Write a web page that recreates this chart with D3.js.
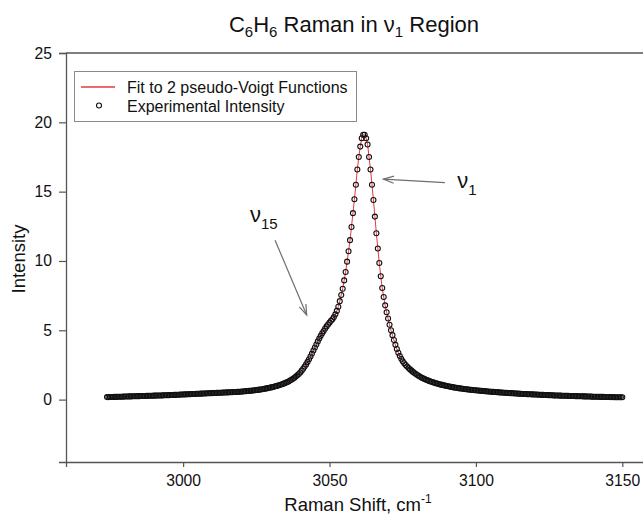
<!DOCTYPE html>
<meta charset="utf-8">
<script src="https://d3js.org/d3.v7.min.js"></script>
<style>
    body { margin: 0; background: #fff; }
    text { font-family: "Liberation Sans", Arial, sans-serif; fill: #111; }
</style>
<div id="my_dataviz"></div>

<script>
    // raman shift grid (cm-1) of the recorded spectrum
    const shiftStart = 2974;
    const shiftStep = 0.5;

    // experimental intensity, one value per grid step
    const intensity = [
        // 2974 - 3018.5
        0.18, 0.18, 0.185, 0.19, 0.19, 0.195, 0.2, 0.2, 0.205, 0.21,
        0.21, 0.215, 0.22, 0.22, 0.225, 0.23, 0.23, 0.235, 0.24, 0.24,
        0.245, 0.25, 0.25, 0.255, 0.26, 0.26, 0.265, 0.27, 0.27, 0.275,
        0.28, 0.28, 0.285, 0.29, 0.29, 0.295, 0.3, 0.3, 0.305, 0.31,
        0.31, 0.315, 0.32, 0.325, 0.33, 0.335, 0.34, 0.345, 0.35, 0.355,
        0.36, 0.365, 0.37, 0.375, 0.38, 0.385, 0.39, 0.395, 0.4, 0.405,
        0.41, 0.415, 0.42, 0.425, 0.43, 0.435, 0.44, 0.445, 0.45, 0.455,
        0.46, 0.465, 0.47, 0.475, 0.48, 0.485, 0.49, 0.495, 0.5, 0.505,
        0.51, 0.515, 0.52, 0.525, 0.53, 0.535, 0.54, 0.545, 0.55, 0.555,
        // 3019 - 3029.5
        0.56, 0.57, 0.58, 0.59, 0.6, 0.61, 0.62, 0.63, 0.64, 0.65,
        0.66, 0.67, 0.69, 0.7, 0.72, 0.73, 0.75, 0.77, 0.79, 0.81,
        0.83, 0.85,
        // 3030 - 3061.5 (v15 shoulder + left flank)
        0.88, 0.9, 0.93, 0.96, 0.99, 1.02, 1.05, 1.09, 1.13, 1.17,
        1.21, 1.26, 1.31, 1.37, 1.43, 1.5, 1.58, 1.66, 1.75, 1.85,
        1.96, 2.09, 2.23, 2.38, 2.54, 2.72, 2.91, 3.11, 3.32, 3.54,
        3.76, 3.98, 4.2, 4.4, 4.6, 4.78, 4.95, 5.12, 5.28, 5.42,
        5.55, 5.68, 5.8, 5.95, 6.15, 6.4, 6.7, 7.1, 7.55, 8.0,
        8.6, 9.2, 9.95, 10.7, 11.5, 12.45, 13.45, 14.45, 15.5, 16.6,
        17.5, 18.25, 18.85, 19.1,
        // 3062 - 3075 (right flank)
        19.1, 18.85, 18.4, 17.5, 16.6, 15.5, 14.4, 13.2, 12.0, 10.9,
        9.85, 8.9, 8.05, 7.4, 6.8, 6.3, 5.85, 5.4, 5.0, 4.65,
        4.3, 3.95, 3.65, 3.38, 3.15, 2.95, 2.76,
        // 3075.5 - 3150
        2.62, 2.5, 2.39, 2.28, 2.18, 2.09, 2.0, 1.92, 1.84, 1.77,
        1.7, 1.64, 1.58, 1.53, 1.48, 1.43, 1.39, 1.35, 1.31, 1.27,
        1.24, 1.2, 1.17, 1.14, 1.11, 1.08, 1.06, 1.03, 1.01, 0.98,
        0.96, 0.94, 0.92, 0.9, 0.88, 0.86, 0.85, 0.83, 0.81, 0.8,
        0.78, 0.77, 0.75, 0.74, 0.73, 0.71, 0.7, 0.69, 0.68, 0.67,
        0.66, 0.65, 0.64, 0.63, 0.62, 0.61, 0.6, 0.59, 0.58, 0.57,
        0.56, 0.555, 0.55, 0.54, 0.53, 0.52, 0.515, 0.51, 0.5, 0.49,
        0.485, 0.48, 0.47, 0.465, 0.46, 0.45, 0.445, 0.44, 0.43, 0.425,
        0.42, 0.41, 0.405, 0.4, 0.395, 0.39, 0.385, 0.38, 0.375, 0.37,
        0.365, 0.36, 0.355, 0.35, 0.345, 0.34, 0.335, 0.33, 0.325, 0.32,
        0.315, 0.31, 0.305, 0.3, 0.3, 0.295, 0.29, 0.285, 0.28, 0.28,
        0.275, 0.27, 0.27, 0.265, 0.26, 0.26, 0.255, 0.25, 0.25, 0.245,
        0.24, 0.24, 0.235, 0.23, 0.23, 0.225, 0.22, 0.22, 0.215, 0.21,
        0.21, 0.205, 0.205, 0.2, 0.2, 0.195, 0.195, 0.19, 0.19, 0.185,
        0.185, 0.18, 0.18, 0.18, 0.175, 0.175, 0.17, 0.17, 0.17, 0.165
    ];

    const xTicks = [3000, 3050, 3100, 3150];
    const yTicks = [0, 5, 10, 15, 20, 25];
    const legendLabels = ["Fit to 2 pseudo-Voigt Functions", "Experimental Intensity"];

    // annotation anchors in data units: label pos, arrow tail, arrow tip
    const bandNames = ["15", "1"];
    const bandLabelAt = [[3022.8, 12.8], [3093.6, 15.25]];
    const arrowFrom = [[3031.4, 11.5], [3089.4, 15.65]];
    const arrowTo = [[3042.2, 6.1], [3068.4, 15.9]];

    const data = intensity.map((v, i) => ({ shift: shiftStart + i * shiftStep, value: v }));

    //plot box
    const W = 643, H = 517;
    const box = { left: 66, right: 651.6, top: 53, bottom: 462 };

    const svg = d3.select("#my_dataviz")
        .append("svg")
        .attr("width", W)
        .attr("height", H);

    const x = d3.scaleLinear()
        .domain([2960, 3160])
        .range([box.left, box.right]);

    const y = d3.scaleLinear()
        .domain([-4.5, 25])
        .range([box.bottom, box.top]);

    const axisColor = "#555";

    // frame: top and right lines (right one falls just outside the window)
    svg.append("path")
        .attr("d", `M${box.left},${box.top}H${box.right}V${box.bottom}`)
        .attr("fill", "none")
        .attr("stroke", axisColor)
        .attr("stroke-width", 1.3);

    // X axis
    const gx = svg.append("g")
        .attr("transform", `translate(0, ${box.bottom})`)
        .call(d3.axisBottom(x).tickValues(xTicks).tickFormat(d3.format("d"))
            .tickSizeOuter(0).tickSize(5).tickPadding(8));

    // Y axis
    const gy = svg.append("g")
        .attr("transform", `translate(${box.left}, 0)`)
        .call(d3.axisLeft(y).tickValues(yTicks).tickSizeOuter(0).tickSize(7).tickPadding(7));

    [gx, gy].forEach(g => {
        g.select(".domain").attr("stroke", axisColor).attr("stroke-width", 1.3);
        g.selectAll(".tick line").attr("stroke", axisColor).attr("stroke-width", 1.2);
        g.selectAll(".tick text")
            .attr("fill", "#111")
            .style("font-family", '"Liberation Sans", Arial, sans-serif')
            .style("font-size", "15.7px");
    });

    // fit line
    svg.append("path")
        .datum(data)
        .attr("fill", "none")
        .attr("stroke", "#e2393f")
        .attr("stroke-width", 1)
        .attr("d", d3.line()
            .x(d => x(d.shift))
            .y(d => y(d.value)));

    // experimental points
    svg.append("g")
        .selectAll("circle")
        .data(data)
        .join("circle")
        .attr("cx", d => x(d.shift))
        .attr("cy", d => y(d.value))
        .attr("r", 2.5)
        .attr("fill", "none")
        .attr("stroke", "#111")
        .attr("stroke-width", 1.1);

    // title
    const title = svg.append("text")
        .attr("x", 354)
        .attr("y", 32)
        .attr("text-anchor", "middle")
        .style("font-size", "22px");
    title.append("tspan").text("C");
    title.append("tspan").attr("dy", 5).style("font-size", "15px").text("6");
    title.append("tspan").attr("dy", -5).text("H");
    title.append("tspan").attr("dy", 5).style("font-size", "15px").text("6");
    title.append("tspan").attr("dy", -5).text(" Raman in \u03bd");
    title.append("tspan").attr("dy", 5).style("font-size", "15px").text("1");
    title.append("tspan").attr("dy", -5).text(" Region");

    // axis titles
    const xt = svg.append("text")
        .attr("x", 358)
        .attr("y", 511)
        .attr("text-anchor", "middle")
        .style("font-size", "18.5px");
    xt.append("tspan").text("Raman Shift, cm");
    xt.append("tspan").attr("dy", -8).style("font-size", "12px").text("-1");

    svg.append("text")
        .attr("transform", "translate(25, 259) rotate(-90)")
        .attr("text-anchor", "middle")
        .style("font-size", "18.5px")
        .text("Intensity");

    // legend
    const lg = svg.append("g");
    lg.append("rect")
        .attr("x", 74.5)
        .attr("y", 71.5)
        .attr("width", 282)
        .attr("height", 50)
        .attr("fill", "#fff")
        .attr("stroke", "#8a8a8a")
        .attr("stroke-width", 1);
    lg.append("line")
        .attr("x1", 81).attr("x2", 115)
        .attr("y1", 87).attr("y2", 87)
        .attr("stroke", "#e2393f")
        .attr("stroke-width", 1.3);
    lg.append("circle")
        .attr("cx", 99).attr("cy", 105.5)
        .attr("r", 2.5)
        .attr("fill", "none")
        .attr("stroke", "#111")
        .attr("stroke-width", 1.1);
    lg.selectAll("text.lab")
        .data(legendLabels)
        .join("text")
        .attr("class", "lab")
        .attr("x", 127)
        .attr("y", (d, i) => 93 + i * 18.5)
        .style("font-size", "16px")
        .text(d => d);

    // band annotations with open arrows
    const arrowColor = "#6e6e6e";
    bandNames.forEach((name, i) => {
        const t = svg.append("text")
            .attr("x", x(bandLabelAt[i][0]))
            .attr("y", y(bandLabelAt[i][1]))
            .style("font-size", "22px");
        t.append("tspan").text("\u03bd");
        t.append("tspan").attr("dy", 7).style("font-size", "15px").text(name);

        const x0 = x(arrowFrom[i][0]), y0 = y(arrowFrom[i][1]);
        const x1 = x(arrowTo[i][0]), y1 = y(arrowTo[i][1]);
        svg.append("line")
            .attr("x1", x0).attr("y1", y0)
            .attr("x2", x1).attr("y2", y1)
            .attr("stroke", arrowColor)
            .attr("stroke-width", 1.2);
        const ang = Math.atan2(y1 - y0, x1 - x0);
        const len = 11, spread = 0.33;
        const pts = [ang + Math.PI - spread, ang + Math.PI + spread]
            .map(a => [x1 + len * Math.cos(a), y1 + len * Math.sin(a)]);
        svg.append("path")
            .attr("d", `M${pts[0]}L${x1},${y1}L${pts[1]}`)
            .attr("fill", "none")
            .attr("stroke", arrowColor)
            .attr("stroke-width", 1.2);
    });
</script>
